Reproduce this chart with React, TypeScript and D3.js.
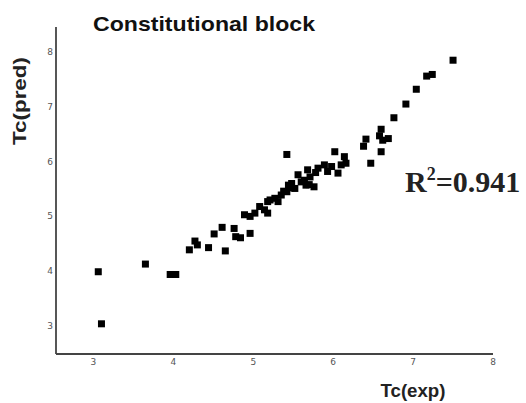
import React from 'react';
import * as d3 from 'd3';

const width = 526;
const height = 403;

// Tc(exp) values
const expValues = [
  3.06, 3.1, 3.65, 3.96, 4.03, 4.2, 4.27, 4.3, 4.44, 4.51, 4.61, 4.65, 4.76, 4.78, 4.84, 4.96,
  4.89, 4.96, 5.02, 5.08, 5.14, 5.18, 5.18, 5.21, 5.27, 5.31, 5.35, 5.38, 5.42, 5.44, 5.46,
  5.48, 5.52, 5.56, 5.6, 5.64, 5.66, 5.68, 5.7, 5.71, 5.76, 5.78, 5.81, 5.89, 5.93, 5.98,
  6.02, 6.06, 6.1, 6.14, 6.16, 5.42, 6.38, 6.41, 6.47, 6.58, 6.6, 6.6, 6.62, 6.69, 6.76,
  6.91, 7.04, 7.17, 7.24, 7.5,
];
// Tc(pred) values
const predValues = [
  3.99, 3.04, 4.13, 3.94, 3.94, 4.39, 4.55, 4.48, 4.43, 4.68, 4.8, 4.37, 4.78, 4.63, 4.61, 4.69,
  5.03, 5.0, 5.06, 5.18, 5.12, 5.06, 5.27, 5.3, 5.33, 5.27, 5.39, 5.46, 5.45, 5.57, 5.52,
  5.6, 5.51, 5.76, 5.63, 5.66, 5.57, 5.85, 5.58, 5.72, 5.54, 5.8, 5.88, 5.94, 5.82, 5.91,
  6.18, 5.79, 5.94, 6.09, 5.97, 6.13, 6.28, 6.41, 5.97, 6.47, 6.59, 6.18, 6.39, 6.42, 6.8,
  7.05, 7.32, 7.56, 7.59, 7.85,
];
const xTicks = [3, 4, 5, 6, 7, 8];
const yTicks = [3, 4, 5, 6, 7, 8];

const App = () => {
  // plot area
  const left = 56;
  const right = 493;
  const top = 27;
  const bottom = 354;

  const xScale = d3.scaleLinear().domain([2.531, 8]).range([left, right]);
  const yScale = d3.scaleLinear().domain([2.489, 8.456]).range([bottom, top]);

  const points = expValues.map((x, i) => ({ x, y: predValues[i] }));
  const size = 7;

  return (
    <svg
      width={width}
      height={height}
      style={{ position: 'absolute', left: 0, top: 0, background: '#fff' }}
    >
      <text
        x={93}
        y={31}
        fontFamily="Liberation Sans, Arial, sans-serif"
        fontWeight="bold"
        fontSize={21}
        fill="#111"
        textLength={222}
        lengthAdjust="spacingAndGlyphs"
      >
        Constitutional block
      </text>

      {/* axes */}
      <line x1={left} x2={left} y1={top} y2={bottom} stroke="#444" strokeWidth={1.8} />
      <line x1={left} x2={right} y1={bottom} y2={bottom} stroke="#444" strokeWidth={1.8} />

      {xTicks.map((t) => (
        <text key={'x' + t} x={xScale(t)} y={365} textAnchor="middle" fontFamily="DejaVu Sans, sans-serif" fontSize={9} fill="#555">
          {t}
        </text>
      ))}
      {yTicks.map((t) => (
        <text key={'y' + t} x={53} y={yScale(t) + 3} textAnchor="end" fontFamily="DejaVu Sans, sans-serif" fontSize={9} fill="#555">
          {t}
        </text>
      ))}

      {/* points */}
      {points.map((p, i) => (
        <rect key={i} x={xScale(p.x) - size / 2} y={yScale(p.y) - size / 2} width={size} height={size} fill="#000" />
      ))}

      <text
        transform="translate(26, 101) rotate(-90)"
        textAnchor="middle"
        fontFamily="Liberation Sans, Arial, sans-serif"
        fontWeight="bold"
        fontSize={18}
        fill="#222"
        textLength={88}
        lengthAdjust="spacingAndGlyphs"
      >
        Tc(pred)
      </text>
      <text
        x={413}
        y={397}
        textAnchor="middle"
        fontFamily="Liberation Sans, Arial, sans-serif"
        fontWeight="bold"
        fontSize={18}
        fill="#222"
        textLength={65}
        lengthAdjust="spacingAndGlyphs"
      >
        Tc(exp)
      </text>

      <text x={405} y={192} fontFamily="Liberation Serif, Times New Roman, serif" fontWeight="bold" fontSize={30} fill="#222">
        R
        <tspan fontSize={18} dy={-12}>2</tspan>
        <tspan dy={12}>=0.941</tspan>
      </text>
    </svg>
  );
};

export default App;
